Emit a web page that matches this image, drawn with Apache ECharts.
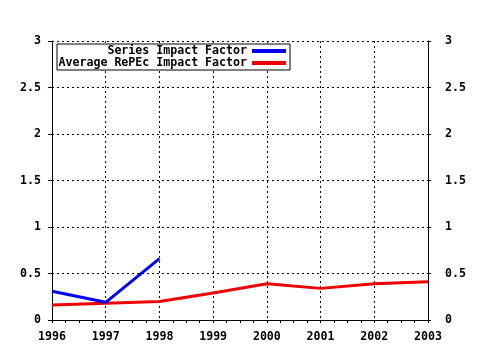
<!DOCTYPE html>
<html>
<head>
<meta charset="utf-8">
<script src="https://cdn.jsdelivr.net/npm/echarts@6/dist/echarts.min.js"></script>
<style>
  html, body { margin: 0; padding: 0; background: #ffffff; }
  #chart { width: 480px; height: 350px; }
</style>
</head>
<body>
<div id="chart"></div>
<script>
// Impact factor by year
const seriesYears = [1996, 1997, 1998];
const seriesImpact = [0.31, 0.19, 0.66];
const avgYears = [1996, 1997, 1998, 1999, 2000, 2001, 2002, 2003];
const avgImpact = [0.16, 0.18, 0.20, 0.29, 0.39, 0.34, 0.39, 0.41];
const seriesNames = ['Series Impact Factor', 'Average RePEc Impact Factor'];

const FONT = 'DejaVu Sans Mono';
const labelStyle = { fontFamily: FONT, fontWeight: 'bold', fontSize: 11.6, color: '#000' };
const black = { color: '#000', width: 1 };

function pairs(xs, ys) { return xs.map((x, i) => [x, ys[i]]); }

const chart = echarts.init(document.getElementById('chart'), null, { renderer: 'canvas' });
chart.setOption({
  animation: false,
  backgroundColor: '#ffffff',
  grid: { left: 52, right: 52, top: 41, bottom: 30 },
  legend: {
    left: 57, top: 44,
    orient: 'vertical',
    align: 'right',
    backgroundColor: '#fff',
    borderColor: '#000', borderWidth: 1, borderRadius: 0,
    padding: [1, 4, 1, 1],
    itemGap: 0,
    itemWidth: 34, itemHeight: 4,
    icon: 'rect',
    textStyle: Object.assign({}, labelStyle, { width: 189, align: 'right', lineHeight: 12, padding: 0 }),
    data: seriesNames
  },
  xAxis: [
    {
      type: 'value', position: 'bottom', min: 1996, max: 2003, interval: 1,
      axisLine: { lineStyle: black },
      axisTick: { show: true, length: 3, lineStyle: black },
      minorTick: { show: true, splitNumber: 4, length: 3, lineStyle: black },
      axisLabel: Object.assign({}, labelStyle, { margin: 11, formatter: v => String(v) }),
      splitLine: { show: true, lineStyle: { color: '#000', width: 1, type: [2, 3] } }
    },
    {
      type: 'value', position: 'top', min: 1996, max: 2003, interval: 1,
      axisLine: { lineStyle: black },
      axisTick: { show: true, inside: true, length: 3, lineStyle: black },
      minorTick: { show: true, splitNumber: 4, length: 2, lineStyle: black },
      axisLabel: { show: false },
      splitLine: { show: false }
    }
  ],
  yAxis: [
    {
      type: 'value', position: 'left', min: 0, max: 3, interval: 0.5,
      axisLine: { show: true, lineStyle: black },
      axisTick: { show: true, length: 4, lineStyle: black },
      axisLabel: Object.assign({}, labelStyle, { margin: 11 }),
      splitLine: { show: true, lineStyle: { color: '#000', width: 1, type: [2, 3] } }
    },
    {
      type: 'value', position: 'right', min: 0, max: 3, interval: 0.5,
      axisLine: { show: true, lineStyle: black },
      axisTick: { show: true, length: 3, lineStyle: black },
      axisLabel: Object.assign({}, labelStyle, { margin: 17 }),
      splitLine: { show: false }
    }
  ],
  series: [
    {
      name: seriesNames[0], type: 'line', xAxisIndex: 0, yAxisIndex: 0,
      data: pairs(seriesYears, seriesImpact),
      showSymbol: false, symbol: 'none',
      color: '#0000ee', lineStyle: { width: 3, color: '#0000ee' }, z: 3
    },
    {
      name: seriesNames[1], type: 'line', xAxisIndex: 0, yAxisIndex: 0,
      data: pairs(avgYears, avgImpact),
      showSymbol: false, symbol: 'none',
      color: '#ee0000', lineStyle: { width: 3, color: '#ee0000' }, z: 2
    }
  ]
});
</script>
</body>
</html>
